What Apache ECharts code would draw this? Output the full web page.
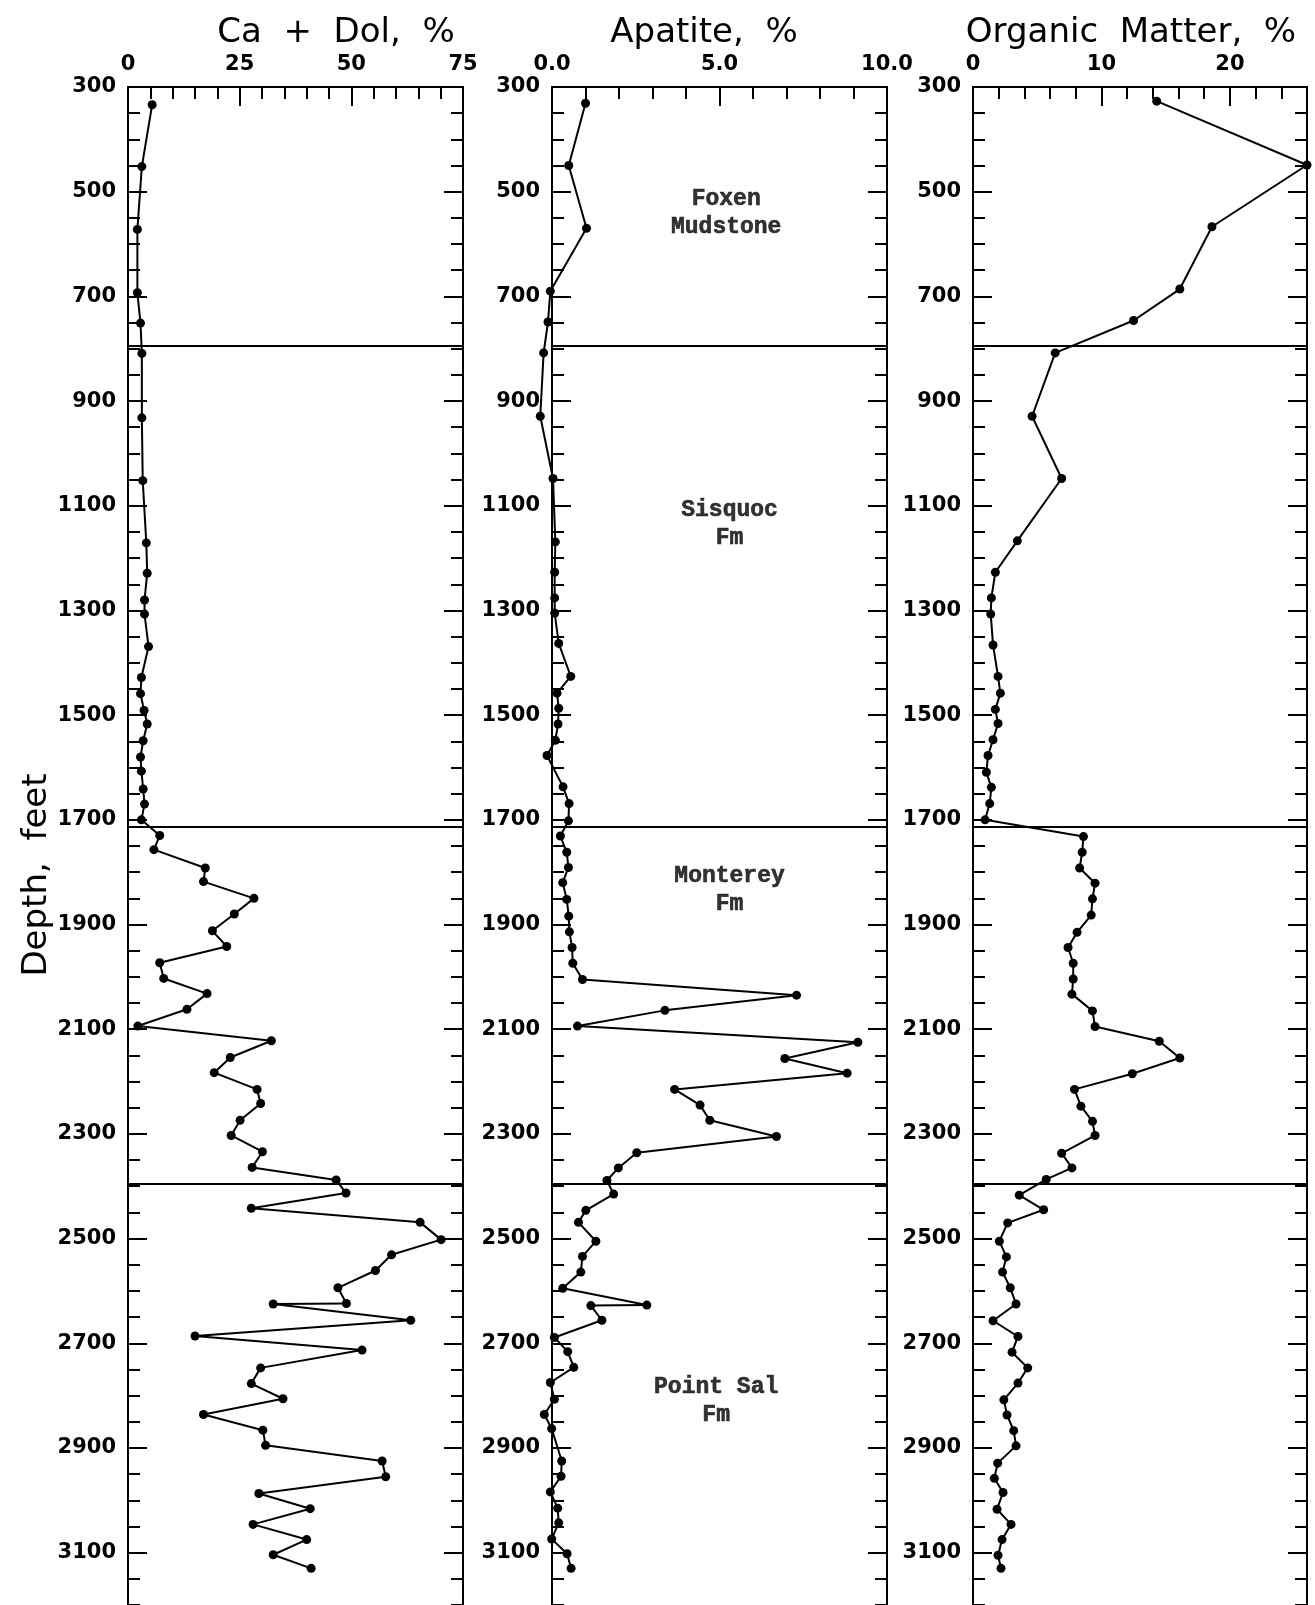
<!DOCTYPE html>
<html>
<head>
<meta charset="utf-8">
<script src="https://cdn.jsdelivr.net/npm/echarts@6/dist/echarts.min.js"></script>
<style>
html,body{margin:0;padding:0;background:#fff;}
#chart{width:1315px;height:1605px;}
</style>
</head>
<body>
<div id="chart"></div>
<script>
// ---------------- DATA ----------------
const caDolDepth = [334,452,572,693,751,809,932,1052,1171,1229,1280,1307,1369,1428,1459,1491,1517,1549,1580,1607,1641,1670,1700,1730,1757,1792,1818,1850,1880,1912,1942,1973,2003,2032,2062,2094,2122,2154,2183,2215,2242,2274,2303,2334,2364,2388,2413,2442,2469,2502,2531,2561,2594,2624,2625,2656,2686,2713,2747,2777,2806,2836,2866,2895,2925,2955,2987,3016,3046,3075,3104,3130];
const caDolValue = [5.4,3.1,2.1,2.1,2.8,3.1,3.1,3.3,4.1,4.3,3.7,3.7,4.6,3.0,2.8,3.6,4.3,3.4,2.8,3.0,3.4,3.7,3.0,7.1,5.8,17.3,16.9,28.2,23.8,18.9,22.1,7.1,8.0,17.7,13.2,2.2,32.1,22.9,19.3,28.9,29.7,25.1,23.1,30.1,27.8,46.6,48.8,27.6,65.4,70.1,59.0,55.4,47.0,48.9,32.5,63.3,15.0,52.4,29.7,27.6,34.7,16.9,30.2,30.8,56.9,57.7,29.3,40.8,28.0,40.0,32.5,41.0];

const apatiteDepth = [331,450,570,690,749,808,929,1048,1169,1227,1276,1305,1363,1426,1458,1487,1517,1548,1577,1637,1669,1702,1731,1762,1791,1820,1852,1884,1914,1944,1974,2005,2035,2064,2094,2125,2156,2184,2215,2245,2274,2305,2336,2365,2389,2415,2446,2469,2505,2534,2564,2595,2627,2628,2656,2689,2716,2746,2775,2807,2836,2863,2925,2954,2984,3015,3043,3074,3102,3130];
const apatiteValue = [1.0,0.5,1.03,-0.05,-0.12,-0.25,-0.35,0.03,0.1,0.08,0.08,0.08,0.2,0.56,0.15,0.2,0.18,0.1,-0.15,0.33,0.51,0.49,0.25,0.44,0.49,0.32,0.44,0.5,0.52,0.6,0.62,0.91,7.3,3.37,0.76,9.13,6.95,8.81,3.66,4.42,4.71,6.70,2.53,1.98,1.64,1.84,1.01,0.79,1.31,0.91,0.86,0.32,2.83,1.16,1.49,0.07,0.47,0.65,-0.05,0.07,-0.23,-0.01,0.29,0.27,-0.05,0.17,0.2,-0.01,0.45,0.57];

const organicDepth = [327,449,567,686,746,808,929,1048,1167,1227,1276,1307,1366,1426,1458,1489,1516,1547,1577,1609,1638,1669,1700,1732,1762,1792,1821,1851,1882,1915,1944,1974,2004,2033,2065,2095,2123,2155,2185,2215,2247,2276,2303,2337,2365,2387,2417,2445,2470,2505,2535,2564,2594,2625,2657,2687,2717,2747,2776,2808,2837,2867,2896,2929,2958,2985,3017,3046,3075,3105,3130];
const organicValue = [14.3,26.0,18.6,16.1,12.5,6.4,4.6,6.9,3.45,1.74,1.43,1.38,1.56,1.95,2.13,1.74,1.95,1.56,1.17,1.04,1.43,1.3,0.94,8.6,8.5,8.3,9.5,9.3,9.2,8.1,7.4,7.8,7.8,7.7,9.3,9.5,14.5,16.1,12.4,7.9,8.4,9.3,9.5,6.9,7.7,5.7,3.6,5.5,2.7,2.05,2.6,2.3,2.9,3.35,1.56,3.5,3.04,4.26,3.5,2.4,2.65,3.17,3.35,1.92,1.66,2.34,1.87,2.96,2.26,1.95,2.18];

// formation boundaries (depth, feet)
const boundaryDepths = [795, 1713, 2395];

// formation labels (drawn in the Apatite panel)
const formationNames = ['Foxen\nMudstone', 'Sisquoc\nFm', 'Monterey\nFm', 'Point Sal\nFm'];
const formationDepths = [541, 1136, 1834, 2810];
const formationX = [5.2, 5.3, 5.3, 4.9];

// axis ticks / labels
const depthLabels = [300,500,700,900,1100,1300,1500,1700,1900,2100,2300,2500,2700,2900,3100];
const caDolTicks = [0,25,50,75];
const apatiteTicks = [0,5,10];
const organicTicks = [0,10,20];
const panelTitles = ['Ca  +  Dol,  %', 'Apatite,  %', 'Organic  Matter,  %'];
const depthTitle = 'Depth,  feet';

// ---------------- LAYOUT ----------------
const panels = [
  {left:128, width:335, xMax:75, minor:5, major:caDolTicks, fmt:v=>String(v), depth:caDolDepth, value:caDolValue, titleX:336},
  {left:552, width:335, xMax:10, minor:1, major:apatiteTicks, fmt:v=>Number(v).toFixed(1), depth:apatiteDepth, value:apatiteValue, titleX:704},
  {left:973, width:334, xMax:26, minor:2, major:organicTicks, fmt:v=>String(v), depth:organicDepth, value:organicValue, titleX:1131}
];
const TOP = 87, HEIGHT = 1519;
const black = '#000';
const labelFont = {color:black, fontFamily:'DejaVu Sans', fontWeight:'bold', fontSize:21};

const grid = [], xAxis = [], yAxis = [], series = [];
panels.forEach((p, gi) => {
  grid.push({left:p.left, top:TOP, width:p.width, height:HEIGHT, containLabel:false});
  xAxis.push({gridIndex:gi, type:'value', position:'top', min:0, max:p.xMax, interval:p.minor,
    axisLine:{show:true, onZero:false, lineStyle:{color:black, width:2}},
    axisTick:{show:true, inside:true, length:12, lineStyle:{color:black, width:2}},
    axisLabel:{show:false}, splitLine:{show:false}});
  xAxis.push({gridIndex:gi, type:'value', position:'top', min:0, max:p.xMax,
    axisLine:{show:false, onZero:false},
    axisTick:{show:true, inside:true, length:19, customValues:p.major, lineStyle:{color:black, width:2}},
    axisLabel:Object.assign({show:true, customValues:p.major, margin:12, formatter:p.fmt}, labelFont),
    splitLine:{show:false}});
  yAxis.push({gridIndex:gi, type:'value', position:'left', inverse:true, min:300, max:3200, interval:50,
    axisLine:{show:true, onZero:false, lineStyle:{color:black, width:2}},
    axisTick:{show:true, inside:true, length:12, lineStyle:{color:black, width:2}},
    axisLabel:{show:false}, splitLine:{show:false}});
  yAxis.push({gridIndex:gi, type:'value', position:'left', inverse:true, min:300, max:3200,
    axisLine:{show:false, onZero:false},
    axisTick:{show:true, inside:true, length:19, customValues:depthLabels, lineStyle:{color:black, width:2}},
    axisLabel:Object.assign({show:true, customValues:depthLabels, margin:12, formatter:v=>String(v)}, labelFont),
    splitLine:{show:false}});
  yAxis.push({gridIndex:gi, type:'value', position:'right', inverse:true, min:300, max:3200, interval:50,
    axisLine:{show:true, onZero:false, lineStyle:{color:black, width:2}},
    axisTick:{show:true, inside:true, length:12, lineStyle:{color:black, width:2}},
    axisLabel:{show:false}, splitLine:{show:false}});
  yAxis.push({gridIndex:gi, type:'value', position:'right', inverse:true, min:300, max:3200,
    axisLine:{show:false, onZero:false},
    axisTick:{show:true, inside:true, length:19, customValues:depthLabels, lineStyle:{color:black, width:2}},
    axisLabel:{show:false}, splitLine:{show:false}});

  const pts = p.value.map((v,i)=>[v, p.depth[i]]);
  // connecting segments (custom series so that nothing is clipped at the axes)
  const segs = [];
  for (let i = 1; i < pts.length; i++) segs.push([pts[i-1][0], pts[i-1][1], pts[i][0], pts[i][1]]);
  series.push({
    type:'custom', xAxisIndex:gi*2, yAxisIndex:gi*4, clip:false, silent:true, animation:false,
    encode:{x:[0,2], y:[1,3]},
    data:segs,
    renderItem:(params, api)=>{
      const a = api.coord([api.value(0), api.value(1)]);
      const b = api.coord([api.value(2), api.value(3)]);
      return {type:'line', shape:{x1:a[0], y1:a[1], x2:b[0], y2:b[1]},
        style:{stroke:black, lineWidth:2, lineCap:'round'}};
    }
  });
  // sample points
  series.push({
    type:'scatter', xAxisIndex:gi*2, yAxisIndex:gi*4,
    data:pts, symbol:'circle', symbolSize:9,
    itemStyle:{color:black, opacity:1},
    clip:false, animation:false, silent:true,
    markLine:{symbol:'none', silent:true, animation:false,
      label:{show:false},
      lineStyle:{color:black, width:2, type:'solid'},
      data:boundaryDepths.map(d=>({yAxis:d}))}
  });
});

series.push({
  type:'scatter', xAxisIndex:2, yAxisIndex:4,
  symbol:'circle', symbolSize:1, itemStyle:{color:'rgba(0,0,0,0)'},
  silent:true, animation:false, clip:false,
  data:formationNames.map((n,i)=>({name:n, value:[formationX[i], formationDepths[i]]})),
  label:{show:true, position:'inside', formatter:'{b}', color:black,
    textBorderColor:black, textBorderWidth:0.6,
    fontFamily:'Liberation Mono', fontWeight:'bold', fontSize:23, lineHeight:28, align:'center'}
});

const graphic = panels.map((p,i)=>({
  type:'text', x:p.titleX, y:33, silent:true,
  style:{text:panelTitles[i], fill:black, fontFamily:'DejaVu Sans', fontSize:34, fontWeight:'normal',
    align:'center', verticalAlign:'middle'}
}));
graphic.push({
  type:'text', x:37, y:875, rotation:Math.PI/2, silent:true,
  style:{text:depthTitle, fill:black, fontFamily:'DejaVu Sans', fontSize:34, fontWeight:'normal',
    align:'center', verticalAlign:'middle'}
});

const chart = echarts.init(document.getElementById('chart'), null, {renderer:'canvas'});
chart.setOption({
  backgroundColor:'#fff',
  animation:false,
  grid, xAxis, yAxis, series, graphic
});
</script>
</body>
</html>
